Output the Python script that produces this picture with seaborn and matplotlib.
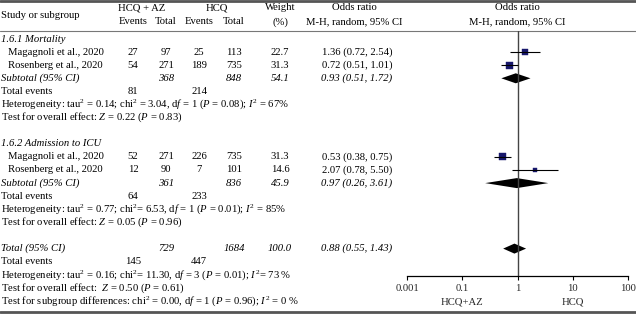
import matplotlib as mpl
import matplotlib.pyplot as plt
import numpy as np
import pandas as pd
import seaborn as sns

sns.set_theme(style='white')
plt.rcParams['font.family'] = ['Liberation Serif', 'DejaVu Serif']
plt.rcParams['mathtext.fontset'] = 'custom'
plt.rcParams['mathtext.rm'] = 'Liberation Serif'
plt.rcParams['mathtext.it'] = 'Liberation Serif:italic'

# study level data
SUBGROUPS = ['1.6.1 Mortality', '1.6.2 Admission to ICU']
STUDIES = ['Magagnoli et al., 2020', 'Rosenberg et al., 2020',
           'Magagnoli et al., 2020', 'Rosenberg et al., 2020']
STUDY_GROUP = [0, 0, 1, 1]
AZ_EVENTS = [27, 54, 52, 12]
AZ_TOTAL = [97, 271, 271, 90]
HCQ_EVENTS = [25, 189, 226, 7]
HCQ_TOTAL = [113, 735, 735, 101]
WEIGHT = [22.7, 31.3, 31.3, 14.6]
OR = [1.36, 0.72, 0.53, 2.07]
OR_LO = [0.72, 0.51, 0.38, 0.78]
OR_HI = [2.54, 1.01, 0.75, 5.50]

# subgroup summaries
SUB_AZ_TOTAL = [368, 361]
SUB_HCQ_TOTAL = [848, 836]
SUB_WEIGHT = [54.1, 45.9]
SUB_OR = [0.93, 0.97]
SUB_LO = [0.51, 0.26]
SUB_HI = [1.72, 3.61]
SUB_AZ_EVENTS = [81, 64]
SUB_HCQ_EVENTS = [214, 233]
SUB_HET = [
    r'Heterogeneity: tau$^2$ = 0.14; chi$^2$ = 3.04, d$f$ = 1 ($P$ = 0.08); $I^2$ = 67%',
    r'Heterogeneity: tau$^2$ = 0.77; chi$^2$= 6.53, d$f$ = 1 ($P$ = 0.01); $I^2$ = 85%',
]
SUB_Z = [r'Test for overall effect: $Z$ = 0.22 ($P$ = 0.83)',
         r'Test for overall effect: $Z$ = 0.05 ($P$ = 0.96)']

# overall
TOT_AZ_TOTAL, TOT_HCQ_TOTAL, TOT_WEIGHT = 729, 1684, 100.0
TOT_OR, TOT_LO, TOT_HI = 0.88, 0.55, 1.43
TOT_AZ_EVENTS, TOT_HCQ_EVENTS = 145, 447
TOT_HET = r'Heterogeneity: tau$^2$ = 0.16; chi$^2$= 11.30, d$f$ = 3 ($P$ = 0.01); $I^2$= 73 %'
TOT_Z = r'Test for overall effect:  $Z$ = 0.50 ($P$ = 0.61)'
TOT_SUBDIFF = r'Test for subgroup differences: chi$^2$ = 0.00, d$f$ = 1 ($P$ = 0.96); $I^2$ = 0 %'

TICKS = [0.01, 0.1, 1, 10, 100]
TICK_LABELS = ['0.001', '0.1', '1', '10', '100']
FAVOURS = ['HCQ+AZ', 'HCQ']

# layout (pixels)
W, H = 636, 316
ROW0, STEP = 39, 13.1
COLS = [133, 166, 199, 234, 280]
OR_TXT_X = 357
FS = 7.7
NAVY = '#17176b'


def row_y(k):
    return ROW0 + STEP * k


def main():
    fig = plt.figure(figsize=(W / 100, H / 100), dpi=100)
    bg = fig.add_axes([0, 0, 1, 1])
    bg.set_xlim(0, W)
    bg.set_ylim(H, 0)
    bg.axis('off')

    def txt(x, y, s, ha='center', italic=False):
        bg.text(x, y, s, ha=ha, va='center', fontsize=FS,
                style='italic' if italic else 'normal', color='black')

    # rules
    bg.plot([0, W], [1, 1], color='#555555', lw=2)
    bg.plot([0, W], [31, 31], color='#777777', lw=0.8)
    bg.plot([0, W], [312, 312], color='#555555', lw=2)

    # header
    txt(1, 15, 'Study or subgroup', ha='left')
    txt(np.mean(COLS[:2]) - 8, 8, 'HCQ + AZ')
    txt(np.mean(COLS[2:4]), 8, 'HCQ')
    for x, s in zip(COLS[:4], ['Events', 'Total', 'Events', 'Total']):
        txt(x, 22, s)
    txt(COLS[4], 8, 'Weight')
    txt(COLS[4], 22, '(%)')
    txt(OR_TXT_X - 3, 8, 'Odds ratio')
    txt(OR_TXT_X - 3, 22, 'M-H, random, 95% CI')
    txt(517, 8, 'Odds ratio')
    txt(517, 22, 'M-H, random, 95% CI')

    study_rows = []
    sub_rows = []
    k = 0
    for g, name in enumerate(SUBGROUPS):
        txt(1, row_y(k), name, ha='left', italic=True)
        k += 1
        for i in [i for i, sg in enumerate(STUDY_GROUP) if sg == g]:
            y = row_y(k)
            study_rows.append(y)
            txt(8, y, STUDIES[i], ha='left')
            vals = [AZ_EVENTS[i], AZ_TOTAL[i], HCQ_EVENTS[i], HCQ_TOTAL[i], f'{WEIGHT[i]:.1f}']
            for x, v in zip(COLS, vals):
                txt(x, y, str(v))
            txt(OR_TXT_X, y, f'{OR[i]:.2f} ({OR_LO[i]:.2f}, {OR_HI[i]:.2f})')
            k += 1
        y = row_y(k)
        sub_rows.append(y)
        txt(1, y, 'Subtotal (95% CI)', ha='left', italic=True)
        txt(COLS[1], y, str(SUB_AZ_TOTAL[g]), italic=True)
        txt(COLS[3], y, str(SUB_HCQ_TOTAL[g]), italic=True)
        txt(COLS[4], y, f'{SUB_WEIGHT[g]:.1f}', italic=True)
        txt(OR_TXT_X, y, f'{SUB_OR[g]:.2f} ({SUB_LO[g]:.2f}, {SUB_HI[g]:.2f})', italic=True)
        k += 1
        y = row_y(k)
        txt(1, y, 'Total events', ha='left')
        txt(COLS[0], y, str(SUB_AZ_EVENTS[g]))
        txt(COLS[2], y, str(SUB_HCQ_EVENTS[g]))
        k += 1
        txt(1, row_y(k), SUB_HET[g], ha='left')
        k += 1
        txt(1, row_y(k), SUB_Z[g], ha='left')
        k += 2

    tot_y = row_y(k)
    txt(1, tot_y, 'Total (95% CI)', ha='left', italic=True)
    txt(COLS[1], tot_y, str(TOT_AZ_TOTAL), italic=True)
    txt(COLS[3], tot_y, str(TOT_HCQ_TOTAL), italic=True)
    txt(COLS[4], tot_y, f'{TOT_WEIGHT:.1f}', italic=True)
    txt(OR_TXT_X, tot_y, f'{TOT_OR:.2f} ({TOT_LO:.2f}, {TOT_HI:.2f})', italic=True)
    k += 1
    txt(1, row_y(k), 'Total events', ha='left')
    txt(COLS[0], row_y(k), str(TOT_AZ_EVENTS))
    txt(COLS[2], row_y(k), str(TOT_HCQ_EVENTS))
    txt(1, row_y(k + 1), TOT_HET, ha='left')
    txt(1, row_y(k + 2), TOT_Z, ha='left')
    txt(1, row_y(k + 3), TOT_SUBDIFF, ha='left')

    # forest panel, y in the same pixel units as the text
    x0, x1, ytop, ybot = 407, 628, 31, 276
    fa = fig.add_axes([x0 / W, (H - ybot) / H, (x1 - x0) / W, (ybot - ytop) / H])
    fa.patch.set_alpha(0)
    fa.set_xscale('log')
    fa.set_xlim(TICKS[0], TICKS[-1])
    fa.set_ylim(ybot, ytop)
    for side in ['left', 'right', 'top']:
        fa.spines[side].set_visible(False)
    fa.spines['bottom'].set_color('black')
    fa.spines['bottom'].set_linewidth(0.9)
    fa.set_yticks([])
    fa.set_xticks(TICKS)
    fa.set_xticklabels(TICK_LABELS, fontsize=FS)
    fa.xaxis.set_minor_locator(mpl.ticker.NullLocator())
    fa.tick_params(axis='x', direction='out', length=3, width=0.8, color='black', pad=3, bottom=True)
    fa.axvline(1, color='#444444', lw=1)

    fa.hlines(study_rows, OR_LO, OR_HI, color='black', lw=0.8)
    df = pd.DataFrame({'or': OR, 'y': study_rows, 'w': WEIGHT})
    sns.scatterplot(data=df, x='or', y='y', size='w', sizes=(6, 26), marker='s',
                    color=NAVY, edgecolor=NAVY, linewidth=0.3, legend=False, ax=fa)
    fa.set_xlabel('')
    fa.set_ylabel('')

    dh = 5
    for est, lo, hi, y in zip(SUB_OR + [TOT_OR], SUB_LO + [TOT_LO], SUB_HI + [TOT_HI],
                              sub_rows + [tot_y]):
        fa.fill([lo, est, hi, est], [y, y - dh, y, y + dh], color='black', lw=0)

    for tick, lab in zip([0.1, 10], FAVOURS):
        fa.text(tick, 302, lab, ha='center', va='center', fontsize=FS, clip_on=False)

    fig.savefig('out.png', dpi=100)
    plt.close(fig)


if __name__ == '__main__':
    main()
